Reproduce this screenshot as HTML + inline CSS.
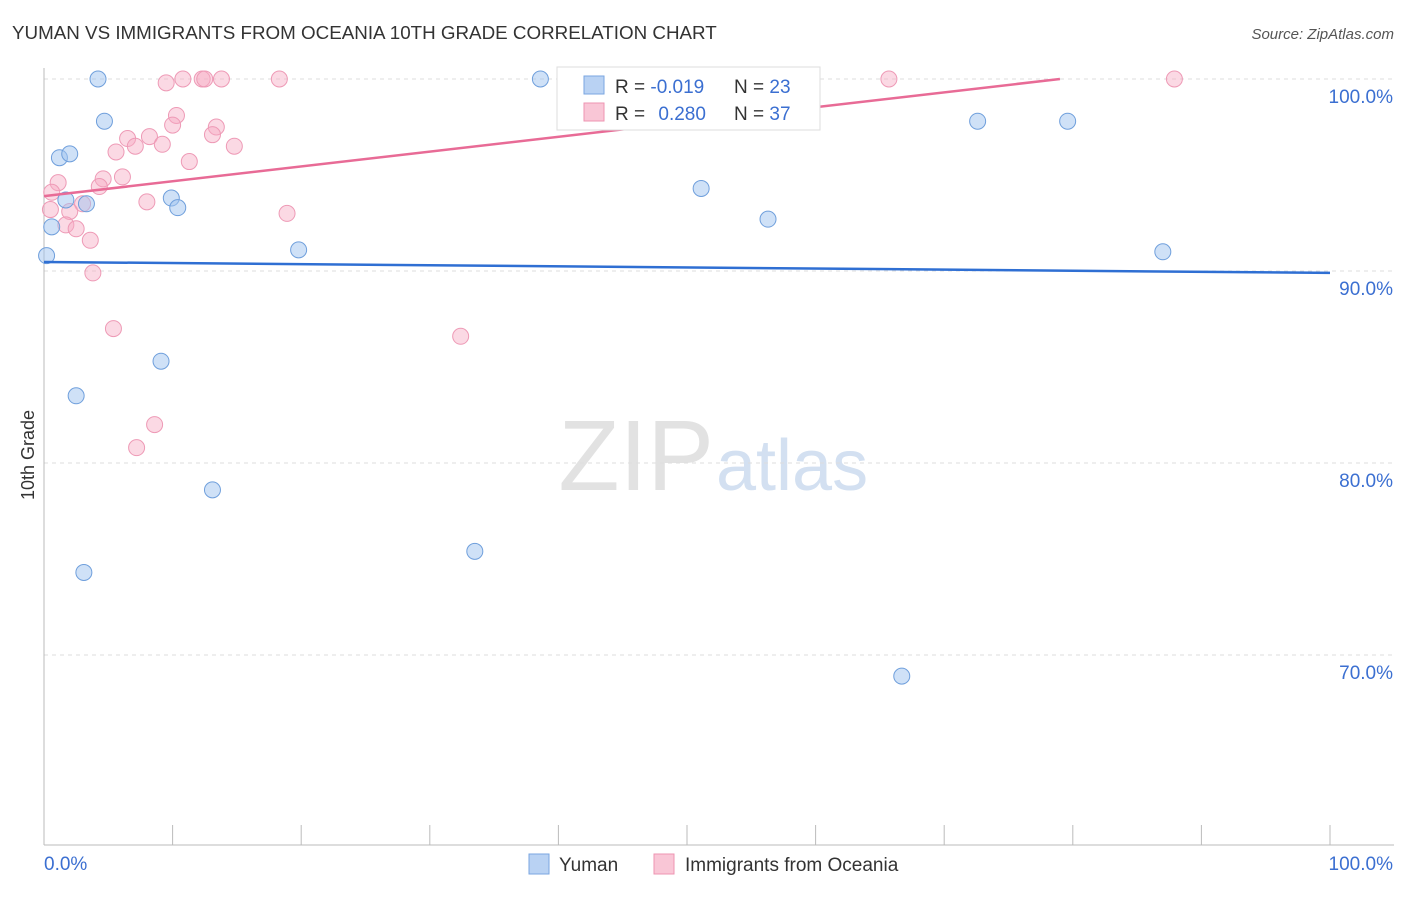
<!DOCTYPE html>
<html><head><meta charset="utf-8"><style>
body{margin:0;background:#fff;font-family:"Liberation Sans",sans-serif}
svg text{font-family:"Liberation Sans",sans-serif}
</style></head><body>
<svg id="chart" width="1406" height="892">
<text x="12" y="39" font-size="18.8" fill="#333">YUMAN VS IMMIGRANTS FROM OCEANIA 10TH GRADE CORRELATION CHART</text>
<text x="1394" y="39" font-size="15" fill="#555" font-style="italic" text-anchor="end">Source: ZipAtlas.com</text>
<text x="714" y="490" font-size="100" fill="#e2e2e2" text-anchor="end" font-family="Liberation Serif">ZIP</text>
<text x="716" y="490" font-size="72" fill="#d3e0f1">atlas</text>
<text x="34" y="455" font-size="18" fill="#333" transform="rotate(-90 34 455)" text-anchor="middle">10th Grade</text>
<g id="grid"></g><g id="pts"></g><g id="lines"></g>
<g>
<rect x="557" y="67" width="263" height="63" fill="#fff" stroke="#ddd"/>
<rect x="584" y="76" width="20" height="18" fill="#b9d2f3" stroke="#7aa6e0"/>
<rect x="584" y="103" width="20" height="18" fill="#f9c6d6" stroke="#ee94b2"/>
<text x="615" y="93" font-size="19" fill="#333">R = <tspan fill="#3b6fd1">-0.019</tspan></text>
<text x="734" y="93" font-size="19" fill="#333">N = <tspan fill="#3b6fd1">23</tspan></text>
<text x="615" y="120" font-size="19" fill="#333">R = <tspan fill="#3b6fd1" dx="8">0.280</tspan></text>
<text x="734" y="120" font-size="19" fill="#333">N = <tspan fill="#3b6fd1">37</tspan></text>
</g>
<g>
<rect x="529" y="854" width="20" height="20" fill="#b9d2f3" stroke="#7aa6e0"/>
<text x="559" y="871" font-size="19" fill="#333">Yuman</text>
<rect x="654" y="854" width="20" height="20" fill="#f9c6d6" stroke="#ee94b2"/>
<text x="685" y="871" font-size="19" fill="#333">Immigrants from Oceania</text>
</g>
<text x="44" y="870" font-size="19" fill="#3b6fd1">0.0%</text>
<text x="1393" y="870" font-size="19" fill="#3b6fd1" text-anchor="end">100.0%</text>
</svg>
<script>
const yTicks=[100,90,80,70];
const yTickLabels=["100.0%","90.0%","80.0%","70.0%"];
const yumanX=[4.2,38.6,4.7,72.6,79.6,1.2,2.0,1.7,3.3,9.9,10.4,51.1,56.3,0.6,0.2,19.8,87.0,9.1,2.5,13.1,33.5,3.1,66.7];
const yumanY=[100,100,97.8,97.8,97.8,95.9,96.1,93.7,93.5,93.8,93.3,94.3,92.7,92.3,90.8,91.1,91.0,85.3,83.5,78.6,75.4,74.3,68.9];
const oceX=[9.5,10.8,12.3,12.5,13.8,18.3,65.7,87.9,10.3,10.0,13.4,6.5,8.2,13.1,7.1,9.2,14.8,5.6,11.3,6.1,4.6,4.3,1.1,0.6,8.0,3.0,18.9,2.0,1.7,2.5,3.6,3.8,5.4,32.4,8.6,7.2,0.5];
const oceY=[99.8,100,100,100,100,100,100,100,98.1,97.6,97.5,96.9,97.0,97.1,96.5,96.6,96.5,96.2,95.7,94.9,94.8,94.4,94.6,94.1,93.6,93.5,93.0,93.1,92.4,92.2,91.6,89.9,87.0,86.6,82.0,80.8,93.2];
const yumanTrend=[[0,90.47],[100,89.9]];
const oceTrend=[[0,93.9],[79,100]];
const X=v=>44+v*12.86, Y=v=>79+(100-v)*19.2;
const NS="http://www.w3.org/2000/svg";
function mk(t,a,p){const e=document.createElementNS(NS,t);for(const k in a)e.setAttribute(k,a[k]);p.appendChild(e);return e;}
const grid=document.getElementById('grid');
yTicks.forEach((t,i)=>{
 const l=mk('line',{x1:44,x2:1394,y1:Y(t),y2:Y(t),stroke:'#ddd','stroke-dasharray':'4,4'},grid);
 
 
 const tx=mk('text',{x:1393,y:Y(t)+24,'font-size':19,fill:'#3b6fd1','text-anchor':'end'},grid);
 tx.textContent=yTickLabels[i];
 
 
});
const ax=mk('line',{x1:44,x2:44,y1:68,y2:845,stroke:'#bbb'},grid);


const bx=mk('line',{x1:44,x2:1394,y1:845,y2:845,stroke:'#bbb'},grid);


for(let i=0;i<=10;i++){const t=mk('line',{x1:X(i*10),x2:X(i*10),y1:825,y2:845,stroke:'#bbb'},grid);
 
 }
const pts=document.getElementById('pts');
oceX.forEach((x,i)=>{const c=mk('circle',{cx:X(x),cy:Y(oceY[i]),r:8,fill:'rgba(246,170,196,0.45)',stroke:'#ee9ab6','stroke-width':1},pts);
 
 });
yumanX.forEach((x,i)=>{const c=mk('circle',{cx:X(x),cy:Y(yumanY[i]),r:8,fill:'rgba(160,195,240,0.5)',stroke:'#6f9fdc','stroke-width':1},pts);
 
 });
const lines=document.getElementById('lines');
const l1=mk('line',{x1:X(yumanTrend[0][0]),y1:Y(yumanTrend[0][1]),x2:X(yumanTrend[1][0]),y2:Y(yumanTrend[1][1]),stroke:'#2f6fd3','stroke-width':2.5},lines);


const l2=mk('line',{x1:X(oceTrend[0][0]),y1:Y(oceTrend[0][1]),x2:X(oceTrend[1][0]),y2:Y(oceTrend[1][1]),stroke:'#e86b96','stroke-width':2.5},lines);


</script>
</body></html>
